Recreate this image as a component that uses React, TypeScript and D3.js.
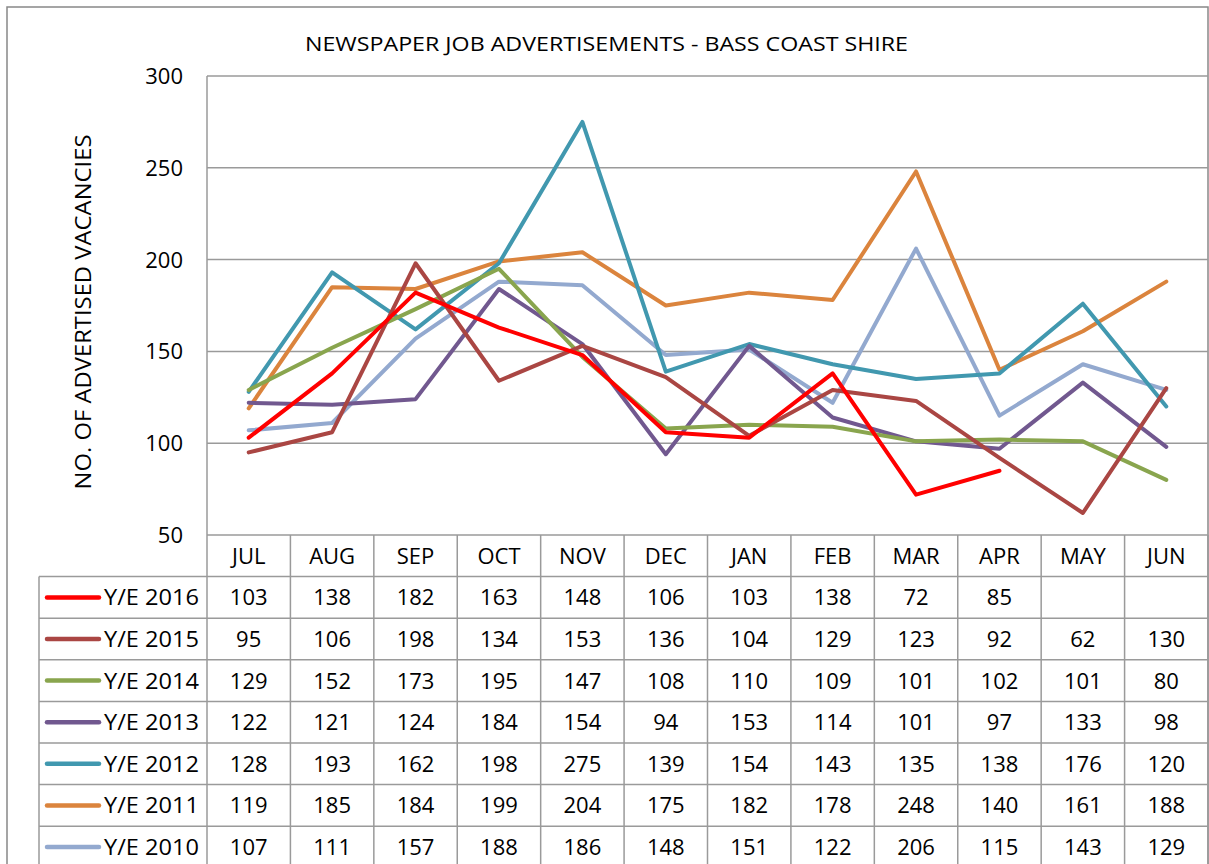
import React from "react";
import * as d3 from "d3";

const months = ["JUL", "AUG", "SEP", "OCT", "NOV", "DEC", "JAN", "FEB", "MAR", "APR", "MAY", "JUN"];
const seriesNames = ["Y/E 2016", "Y/E 2015", "Y/E 2014", "Y/E 2013", "Y/E 2012", "Y/E 2011", "Y/E 2010"];
const seriesColors = ["#FF0000", "#AA4643", "#89A54E", "#71588F", "#4198AF", "#DB843D", "#93A9CF"];
const ye2016: (number | null)[] = [103, 138, 182, 163, 148, 106, 103, 138, 72, 85, null, null];
const ye2015: (number | null)[] = [95, 106, 198, 134, 153, 136, 104, 129, 123, 92, 62, 130];
const ye2014: (number | null)[] = [129, 152, 173, 195, 147, 108, 110, 109, 101, 102, 101, 80];
const ye2013: (number | null)[] = [122, 121, 124, 184, 154, 94, 153, 114, 101, 97, 133, 98];
const ye2012: (number | null)[] = [128, 193, 162, 198, 275, 139, 154, 143, 135, 138, 176, 120];
const ye2011: (number | null)[] = [119, 185, 184, 199, 204, 175, 182, 178, 248, 140, 161, 188];
const ye2010: (number | null)[] = [107, 111, 157, 188, 186, 148, 151, 122, 206, 115, 143, 129];
const seriesValues = [ye2016, ye2015, ye2014, ye2013, ye2012, ye2011, ye2010];
const yTicks = [50, 100, 150, 200, 250, 300];
const title = "NEWSPAPER JOB ADVERTISEMENTS - BASS COAST SHIRE";
const yTitle = "NO. OF ADVERTISED VACANCIES";

export default function App() {
  const W = 1209, H = 864;
  const plotL = 207, plotR = 1208, plotT = 76, plotB = 535;
  const rowH = 41.6;
  const legendL = 39;
  const font = "'Open Sans', sans-serif";
  const grid = "#9A9A9A";
  const fs = 22;

  const x = d3.scaleBand<string>().domain(months).range([plotL, plotR]).padding(0);
  const y = d3.scaleLinear().domain([50, 300]).range([plotB, plotT]);
  const line = d3.line<number | null>()
    .defined((d) => d !== null)
    .x((_, i) => (x(months[i]) as number) + x.bandwidth() / 2)
    .y((d) => y(d as number));

  const headerTop = plotB;
  const rowsTop = plotB + rowH;
  const tableBottom = rowsTop + rowH * seriesNames.length;

  return (
    <svg width={W} height={H} style={{ position: "absolute", left: 0, top: 0, background: "#fff" }}>
      <rect x={0} y={0} width={W} height={H} fill="#fff" />
      <rect x={7} y={7} width={1201} height={H + 20} fill="none" stroke="#888" strokeWidth={1.5} />
      <text x={305} y={51} fontFamily={font} fontSize={20} fill="#000" textLength={603} lengthAdjust="spacingAndGlyphs">{title}</text>
      <text transform={`translate(91,${312}) rotate(-90)`} textAnchor="middle" fontFamily={font} fontSize={21} fill="#000" textLength={355} lengthAdjust="spacingAndGlyphs">{yTitle}</text>
      {yTicks.map((t) => (
        <line key={t} x1={plotL} x2={plotR} y1={y(t)} y2={y(t)} stroke={grid} strokeWidth={1.5} />
      ))}
      <line x1={plotL} x2={plotL} y1={plotT} y2={tableBottom} stroke={grid} strokeWidth={1.5} />
      {yTicks.map((t) => (
        <text key={t} x={183} y={y(t) + 8} textAnchor="end" fontFamily={font} fontSize={fs} fill="#000">{t}</text>
      ))}
      {months.map((m, i) => (
        <line key={m} x1={(x(m) as number) + x.bandwidth()} x2={(x(m) as number) + x.bandwidth()} y1={headerTop} y2={tableBottom} stroke={grid} strokeWidth={1.5} />
      ))}
      <line x1={legendL} x2={legendL} y1={rowsTop} y2={tableBottom} stroke={grid} strokeWidth={1.5} />
      {seriesNames.map((_, i) => (
        <line key={i} x1={legendL} x2={plotR} y1={rowsTop + rowH * i} y2={rowsTop + rowH * i} stroke={grid} strokeWidth={1.5} />
      ))}
      {months.map((m) => (
        <text key={m} x={(x(m) as number) + x.bandwidth() / 2} y={headerTop + rowH / 2 + 8} textAnchor="middle" fontFamily={font} fontSize={fs} fill="#000">{m}</text>
      ))}
      {seriesNames.map((name, i) => (
        <g key={name}>
          <line x1={47} x2={99} y1={rowsTop + rowH * i + rowH / 2} y2={rowsTop + rowH * i + rowH / 2} stroke={seriesColors[i]} strokeWidth={4.5} strokeLinecap="round" />
          <text x={104} y={rowsTop + rowH * i + rowH / 2 + 8} fontFamily={font} fontSize={fs} fill="#000" textLength={95} lengthAdjust="spacingAndGlyphs">{name}</text>
          {seriesValues[i].map((v, j) => v === null ? null : (
            <text key={j} x={(x(months[j]) as number) + x.bandwidth() / 2} y={rowsTop + rowH * i + rowH / 2 + 8} textAnchor="middle" fontFamily={font} fontSize={fs} fill="#000">{v}</text>
          ))}
        </g>
      ))}
      {seriesValues.map((_, i) => i).reverse().map((i) => (
        <path key={i} d={line(seriesValues[i]) || ""} fill="none" stroke={seriesColors[i]} strokeWidth={4} strokeLinejoin="round" strokeLinecap="round" />
      ))}
    </svg>
  );
}
